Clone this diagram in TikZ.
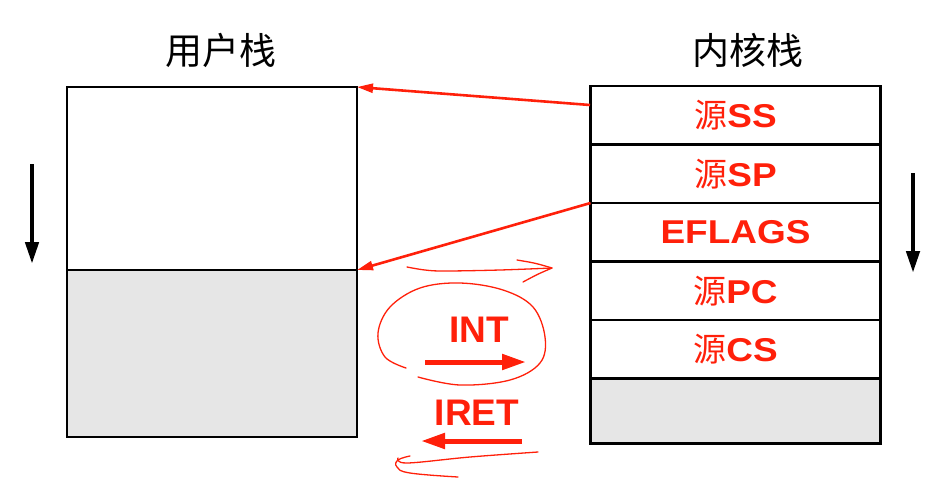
\documentclass[tikz,border=0pt]{standalone}
\usepackage{fontspec}
\setmainfont{Liberation Sans}
\newfontfamily\cjk{Noto Sans CJK SC}
\newfontfamily\rowfont[FakeStretch=1.12]{Liberation Sans}
\usetikzlibrary{arrows.meta}
\definecolor{hred}{HTML}{FF200A}
\definecolor{cellgray}{HTML}{E6E6E6}
\tikzset{
  cell/.style={draw=black, line width=2.6pt, inner sep=0pt, outer sep=0pt, minimum width=290pt},
  rowtxt/.style={text=hred, font=\rowfont\fontsize{33}{33}\selectfont\bfseries},
  title/.style={font=\cjk\fontsize{37}{37}\selectfont},
  redarrow/.style={draw=hred, line width=2.6pt, -{Triangle[length=16pt,width=9pt]}},
  blackarrow/.style={draw=black, line width=4.5pt, -{Triangle[length=22pt,width=13pt]}},
  bigred/.style={draw=hred, line width=5pt, -{Triangle[length=24pt,width=15pt]}},
  hand/.style={draw=hred, line width=1.3pt, line cap=round, line join=round},
  optxt/.style={text=hred, font=\fontsize{37}{37}\selectfont\bfseries}
}
\newcommand{\yuan}{{\cjk\mdseries 源}}
\begin{document}
\begin{tikzpicture}[x=1pt,y=-1pt]
\useasboundingbox (0,0) rectangle (937,496);
% titles
\node[title] (tu) at (221,50) {用户栈};
\node[title] (tk) at (748,50) {内核栈};
% left stack
\node[cell, minimum height=183pt] (ua) at (212,178.5) {};
\node[cell, minimum height=167pt, fill=cellgray] (ub) at (212,353.5) {};
% right stack
\node[cell, minimum height=58.5pt] (r1) at (735.5,115.25) {};
\node[cell, minimum height=58.5pt] (r2) at (735.5,173.75) {};
\node[cell, minimum height=58.5pt] (r3) at (735.5,232.25) {};
\node[cell, minimum height=58.5pt] (r4) at (735.5,290.75) {};
\node[cell, minimum height=58.5pt] (r5) at (735.5,349.25) {};
\node[cell, minimum height=65pt, fill=cellgray] (r6) at (735.5,411) {};
\node[rowtxt] (t1) at (r1) {\yuan SS};
\node[rowtxt] (t2) at (r2) {\yuan SP};
\node[rowtxt] (t3) at (r3) {EFLAGS};
\node[rowtxt] (t4) at (r4) {\yuan PC};
\node[rowtxt] (t5) at (r5) {\yuan CS};
% red pointers
\coordinate (p1) at (590,105);
\draw[redarrow] (p1) -- (ua.north east);
\draw[redarrow] (r3.north west) -- (ua.south east);
% black direction arrows
\coordinate (la1) at (32,164);
\coordinate (la2) at (32,264);
\coordinate (ra1) at (913,173);
\coordinate (ra2) at (913,273);
\draw[blackarrow] (la1) -- (la2);
\draw[blackarrow] (ra1) -- (ra2);
% INT / IRET
\node[optxt] (int) at (479,330) {INT};
\node[optxt] (iret) at (477,413) {IRET};
\coordinate (ia1) at (425,362);
\coordinate (ia2) at (526,362);
\coordinate (ib1) at (522,441);
\coordinate (ib2) at (421,441);
\draw[bigred] (ia1) -- (ia2);
\draw[bigred] (ib1) -- (ib2);
% handwritten strokes
\draw[hand] plot[smooth, tension=0.6] coordinates {(407,267) (425,270) (445,271) (500,270) (552,268)};
\draw[hand] (517,260) .. controls (535,263) .. (552,268) .. controls (538,274) .. (523,282);
\draw[hand] plot[smooth, tension=0.6] coordinates {(406,368) (385,357) (378,333) (390,307) (420,288) (460,283) (503,290) (533,307) (545,337) (540,363) (510,380) (460,385) (418,377)};
\draw[hand] plot[smooth, tension=0.6] coordinates {(538,452) (470,457) (407,463) (398,458)};
\draw[hand] plot[smooth, tension=0.7] coordinates {(410,456) (398,460) (397,467) (410,473) (458,477)};
\end{tikzpicture}
\end{document}
